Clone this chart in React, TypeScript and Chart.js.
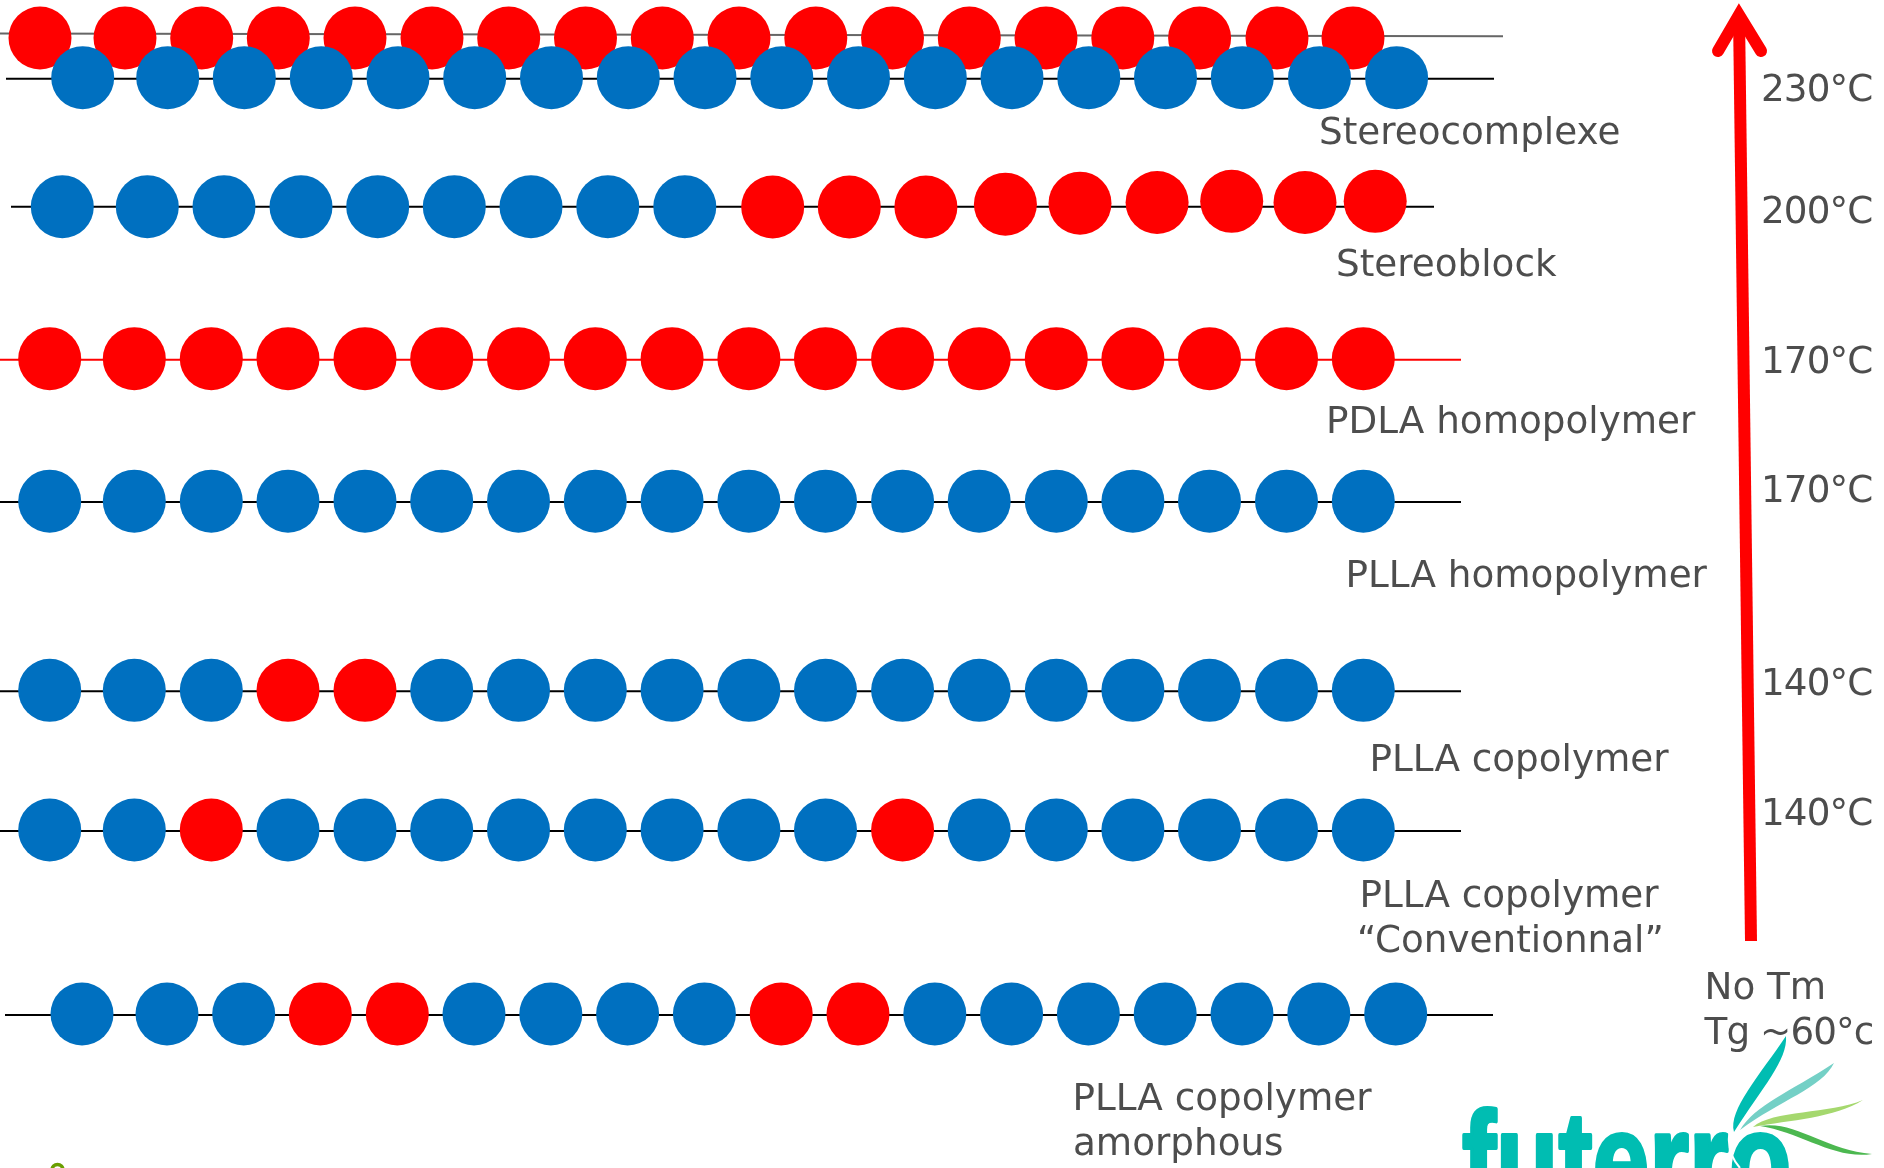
import React, { useEffect, useRef } from "react";
import { Chart, registerables } from "chart.js";

Chart.register(...registerables);

const WIDTH = 1884;
const HEIGHT = 1168;
const RED = "#FF0000";
const BLUE = "#0070C0";
const TEXT = "#4D4D4D";

// Bead positions along each chain
const stereocomplexRedX = [40, 125, 201.7, 278.3, 355, 432, 508.7, 585.5, 662.3, 739, 815.8, 892.5, 969.3, 1046, 1122.8, 1199.6, 1277, 1353];
const stereocomplexBlueX = [82.7, 167.7, 244.3, 321.3, 398, 474.7, 551.5, 628.3, 705, 781.8, 858.5, 935.3, 1012, 1088.8, 1165.5, 1242.3, 1319.5, 1396.6];
const stereoblockX = [62.3, 147.3, 224, 301, 377.7, 454.3, 531, 607.8, 684.8, 772.7, 849.3, 925.9, 1005.4, 1080, 1157.1, 1231.7, 1305, 1375.2];
const stereoblockY = [206.7, 206.7, 206.7, 206.7, 206.7, 206.7, 206.7, 206.7, 206.7, 207, 207, 207, 204.2, 203.2, 202.5, 201.3, 202.5, 201.3];
const chainX = [49.7, 134.3, 211.3, 288, 365, 441.7, 518.5, 595.3, 672.1, 748.9, 825.5, 902.6, 979.2, 1056.3, 1132.9, 1209.5, 1286.5, 1363.3];
const amorphousX = [82, 167, 243.7, 320.3, 397.3, 474, 550.8, 627.6, 704.4, 781.2, 858, 934.8, 1011.6, 1088.4, 1165.2, 1242, 1318.8, 1395.7];

// Monomer sequence per chain: L (blue) and D (red)
const stereocomplexRedSeq = "DDDDDDDDDDDDDDDDDD".split("");
const stereocomplexBlueSeq = "LLLLLLLLLLLLLLLLLL".split("");
const stereoblockSeq = "LLLLLLLLLDDDDDDDDD".split("");
const pdlaSeq = "DDDDDDDDDDDDDDDDDD".split("");
const pllaSeq = "LLLLLLLLLLLLLLLLLL".split("");
const copolymerSeq = "LLLDDLLLLLLLLLLLLL".split("");
const conventionalSeq = "LLDLLLLLLLLDLLLLLL".split("");
const amorphousSeq = "LLLDDLLLLDDLLLLLLL".split("");

// Backbone lines: x0, y0, x1, y1
const stereocomplexRedLine = [0, 33.5, 1503, 36.3];
const stereocomplexBlueLine = [6, 78.7, 1494, 78.7];
const stereoblockLine = [11, 206.7, 1434, 206.7];
const pdlaLine = [0, 359.7, 1461, 359.7];
const pllaLine = [0, 502, 1461, 502];
const copolymerLine = [0, 691.3, 1461, 691.3];
const conventionalLine = [0, 831, 1461, 831];
const amorphousLine = [5, 1015, 1493, 1015];

// Temperature arrow
const arrowShaftX = [1751, 1739];
const arrowShaftY = [941, 15];
const arrowHeadX = [1718, 1739, 1761];
const arrowHeadY = [51, 15, 51];

// Text labels
const labelTexts = [
  "Stereocomplexe", "Stereoblock", "PDLA homopolymer", "PLLA homopolymer", "PLLA copolymer",
  "PLLA copolymer", "\u201CConventionnal\u201D", "PLLA copolymer", "amorphous",
  "230°C", "200°C", "170°C", "170°C", "140°C", "140°C", "No Tm", "Tg ~60°c",
];
const labelX = [1319, 1336, 1326, 1345.5, 1369.5, 1359.5, 1357, 1072.4, 1073, 1761, 1761, 1761, 1761, 1761, 1761, 1704.5, 1704.5];
const labelY = [143.5, 275.5, 433.3, 586.7, 771, 907.3, 952.3, 1109.8, 1155, 101, 222.7, 372.7, 501.7, 695, 825, 999.3, 1044];

const lineSet = (l: number[], color: string, width = 2) => ({
  showLine: true,
  data: [{ x: l[0], y: l[1] }, { x: l[2], y: l[3] }],
  borderColor: color,
  borderWidth: width,
  pointRadius: 0,
});

const beadSet = (xs: number[], ys: number[] | number, seq: string[]) => ({
  showLine: false,
  data: xs.map((x, i) => ({ x, y: Array.isArray(ys) ? ys[i] : ys })),
  pointRadius: 31.5,
  pointBorderWidth: 0,
  pointBackgroundColor: seq.map((k) => (k === "D" ? RED : BLUE)),
});

const leaf = (ctx: CanvasRenderingContext2D, color: string, pts: number[][]) => {
  ctx.fillStyle = color;
  ctx.beginPath();
  ctx.moveTo(pts[0][0], pts[0][1]);
  for (let i = 1; i + 2 < pts.length; i += 3) {
    ctx.bezierCurveTo(pts[i][0], pts[i][1], pts[i + 1][0], pts[i + 1][1], pts[i + 2][0], pts[i + 2][1]);
  }
  ctx.closePath();
  ctx.fill();
};

const decorPlugin = {
  id: "decor",
  afterDatasetsDraw(chart: Chart) {
    const ctx = chart.ctx as any;
    ctx.save();
    // Labels
    ctx.font = '37.3px "DejaVu Sans"';
    ctx.fillStyle = TEXT;
    ctx.textAlign = "left";
    ctx.textBaseline = "alphabetic";
    labelTexts.forEach((t, i) => {
      ctx.letterSpacing = t.includes("°") ? "-0.9px" : "0px";
      ctx.fillText(t, labelX[i], labelY[i]);
    });
    ctx.letterSpacing = "0px";

    // Logo wordmark
    ctx.save();
    ctx.fillStyle = "#00BDB2";
    ctx.strokeStyle = "#00BDB2";
    ctx.lineWidth = 4;
    ctx.lineJoin = "round";
    ctx.font = 'bold 140px "Liberation Sans"';
    ctx.translate(1462, 1209);
    ctx.scale(0.73, 1);
    ctx.fillText("futerro", 0, 0);
    ctx.strokeText("futerro", 0, 0);
    ctx.restore();

    // Logo leaves, with a white halo separating the stem from the last letter
    ctx.strokeStyle = "#FFFFFF";
    ctx.lineWidth = 2;
    ctx.beginPath();
    ctx.moveTo(1738, 1112);
    ctx.bezierCurveTo(1725, 1130, 1726, 1152, 1740, 1168);
    ctx.stroke();
    leaf(ctx, "#74D0C6", [[1834, 1063], [1822, 1088], [1780, 1100], [1740, 1130], [1755, 1105], [1790, 1092], [1834, 1063]]);
    leaf(ctx, "#00BDB2", [[1786, 1036], [1788, 1060], [1762, 1088], [1734, 1132], [1728, 1110], [1760, 1075], [1786, 1036]]);
    leaf(ctx, "#A5D86E", [[1863, 1100], [1835, 1118], [1790, 1120], [1753, 1127], [1772, 1110], [1830, 1114], [1863, 1100]]);
    leaf(ctx, "#4CB850", [[1872, 1154], [1835, 1160], [1800, 1132], [1760, 1126], [1795, 1120], [1825, 1150], [1872, 1154]]);

    // Partial emblem at the lower left edge
    ctx.strokeStyle = "#6A9E00";
    ctx.lineWidth = 3.5;
    ctx.beginPath();
    ctx.arc(57.5, 1170, 5.5, 0, Math.PI * 2);
    ctx.stroke();
    ctx.restore();
  },
};

export default function App() {
  const ref = useRef<HTMLCanvasElement>(null);
  useEffect(() => {
    // Listed back to front; Chart.js paints the first dataset last
    const backToFront: any[] = [
      lineSet(stereocomplexRedLine, "#666666"),
      beadSet(stereocomplexRedX, 38, stereocomplexRedSeq),
      lineSet(stereocomplexBlueLine, "#000000"),
      beadSet(stereocomplexBlueX, 77.7, stereocomplexBlueSeq),
      lineSet(stereoblockLine, "#000000"),
      beadSet(stereoblockX, stereoblockY, stereoblockSeq),
      lineSet(pdlaLine, RED),
      beadSet(chainX, 358.7, pdlaSeq),
      lineSet(pllaLine, "#000000"),
      beadSet(chainX, 501.2, pllaSeq),
      lineSet(copolymerLine, "#000000"),
      beadSet(chainX, 690.3, copolymerSeq),
      lineSet(conventionalLine, "#000000"),
      beadSet(chainX, 830, conventionalSeq),
      lineSet(amorphousLine, "#000000"),
      beadSet(amorphousX, 1014, amorphousSeq),
      {
        showLine: true,
        data: arrowShaftX.map((x, i) => ({ x, y: arrowShaftY[i] })),
        borderColor: RED,
        borderWidth: 12,
        pointRadius: 0,
      },
      {
        showLine: true,
        data: arrowHeadX.map((x, i) => ({ x, y: arrowHeadY[i] })),
        borderColor: RED,
        borderWidth: 12,
        borderCapStyle: "round",
        borderJoinStyle: "miter",
        pointRadius: 0,
      },
    ];
    const chart = new Chart(ref.current!, {
      type: "scatter",
      plugins: [decorPlugin],
      data: { datasets: backToFront.reverse() },
      options: {
        responsive: false,
        animation: false,
        layout: { padding: 0, autoPadding: false },
        events: [],
        plugins: { legend: { display: false }, tooltip: { enabled: false }, title: { display: false } },
        scales: {
          x: { type: "linear", min: 0, max: WIDTH, display: false },
          y: { type: "linear", min: 0, max: HEIGHT, reverse: true, display: false },
        },
      } as any,
    });
    return () => chart.destroy();
  }, []);
  return (
    <canvas
      ref={ref}
      width={WIDTH}
      height={HEIGHT}
      style={{ position: "absolute", left: 0, top: 0, display: "block", background: "#FFFFFF" }}
    />
  );
}
